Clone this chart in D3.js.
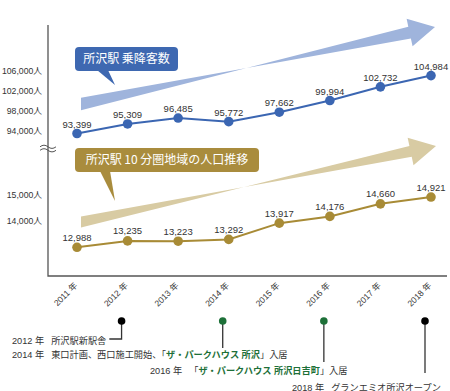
<!DOCTYPE html>
<html>
<head>
<meta charset="utf-8">
<script src="https://cdn.jsdelivr.net/npm/d3@7"></script>
<style>
  body { margin: 0; background: #fff; }
  svg { display: block; font-family: "Liberation Sans", Arial, "Noto Sans CJK JP", sans-serif; }
</style>
</head>
<body>
<div class="chart"></div>
<script>
// DATA ------------------------------------
const years = [2011, 2012, 2013, 2014, 2015, 2016, 2017, 2018];
const riders = [93399, 95309, 96485, 95772, 97662, 99994, 102732, 104984];
const population = [12988, 13235, 13223, 13292, 13917, 14176, 14660, 14921];
const riderTicks = [94000, 98000, 102000, 106000];
const popTicks = [14000, 15000];
const riderTitle = "所沢駅 乗降客数";
const popTitle = "所沢駅 10 分圏地域の人口推移";
const eventYears = [2012, 2014, 2016, 2018];
const eventTexts = [
  "所沢駅新駅舎",
  "東口計画、西口施工開始、「ザ・パークハウス 所沢」入居",
  "「ザ・パークハウス 所沢日吉町」入居",
  "グランエミオ所沢オープン"
];

// CHART INIT ------------------------------
const W = 450, H = 391;
const blue = "#3b66b2", blueLight = "#9fb4dc", blueBox = "#3e68b1";
const gold = "#a88b36", goldLight = "#d8cba3", goldBox = "#a98c3d";
const green = "#1d7038", ink = "#333";

const svg = d3.select(".chart").append("svg")
    .attr("width", W)
    .attr("height", H);

const x = d3.scalePoint().domain(years).range([77, 431]);
const yR = d3.scaleLinear().domain([94000, 106000]).range([130.5, 70.5]);
const yP = d3.scaleLinear().domain([14000, 15000]).range([221, 195]);

// big trend arrows
function arrow(x0, y0, x1, y1, bw, hw, hl) {
    const dx = x1 - x0, dy = y1 - y0, len = Math.hypot(dx, dy);
    const ux = dx / len, uy = dy / len, px = -uy, py = ux;
    const bx = x1 - ux * hl, by = y1 - uy * hl;
    const t = bw / ux;
    const p = [[x0, y0 - t], [bx + px * bw, by + py * bw], [bx + px * hw, by + py * hw], [x1, y1],
               [bx - px * hw, by - py * hw], [bx - px * bw, by - py * bw], [x0, y0 + t]];
    return "M" + p.join("L") + "Z";
}
svg.append("path").attr("d", arrow(81, 104, 435, 27, 6, 14, 26)).attr("fill", blueLight);
svg.append("path").attr("d", arrow(81, 222, 436, 146, 5.5, 14, 26)).attr("fill", goldLight);

// callouts
function callout(bx, by, bw, bh, t0, t1, tip, color, label) {
    const g = svg.append("g");
    g.append("path")
        .attr("d", `M${t0},${by + bh - 1}L${tip[0]},${tip[1]}L${t1},${by + bh - 1}Z`)
        .attr("fill", color);
    g.append("rect")
        .attr("x", bx).attr("y", by).attr("width", bw).attr("height", bh)
        .attr("rx", 4).attr("fill", color);
    g.append("text")
        .attr("x", bx + bw / 2).attr("y", by + bh / 2 + 4.3)
        .attr("text-anchor", "middle")
        .attr("fill", "#fff")
        .style("font-family", "'Noto Sans CJK JP', sans-serif")
        .style("font-size", "12px")
        .text(label);
}
callout(75, 47, 103, 24, 97, 108, [115, 85], blueBox, riderTitle);
callout(75, 148, 184, 24, 100, 110, [115, 201], goldBox, popTitle);

// axes
svg.append("path")
    .attr("d", "M48,25L48,276L447,276")
    .attr("fill", "none")
    .attr("stroke", "#555")
    .attr("stroke-width", 1.3);

// axis break
[146.8, 150.3].forEach(function (yy) {
    svg.append("path")
        .attr("d", `M40,${yy}q4,-3.2 8,0t8,0`)
        .attr("fill", "none")
        .attr("stroke", "#555")
        .attr("stroke-width", 1);
});

const fmt = d3.format(",");
function yAxis(scale, ticks) {
    const a = svg.append("g")
        .attr("transform", "translate(48,0)")
        .call(d3.axisLeft(scale).tickValues(ticks).tickSize(0).tickPadding(6)
            .tickFormat(d => fmt(d) + "人"));
    a.select(".domain").remove();
    a.selectAll("text")
        .attr("fill", ink)
        .style("font-family", "'Liberation Sans', Arial, 'Noto Sans CJK JP', sans-serif")
        .style("font-size", "8.7px");
}
yAxis(yR, riderTicks);
yAxis(yP, popTicks);

// year labels
svg.selectAll(".year")
    .data(years)
    .enter().append("text")
    .attr("class", "year")
    .attr("transform", d => `translate(${x(d) + 1},286) rotate(-45)`)
    .attr("text-anchor", "end")
    .attr("fill", ink)
    .style("font-size", "8.5px")
    .text(d => d + " 年");

// series
function series(vals, y, color, ly) {
    const pts = years.map((yr, i) => [x(yr), y(vals[i]), vals[i]]);
    svg.append("path")
        .attr("d", d3.line()(pts.map(p => [p[0], p[1]])))
        .attr("fill", "none")
        .attr("stroke", color)
        .attr("stroke-width", 2);
    svg.selectAll(null).data(pts).enter().append("circle")
        .attr("cx", d => d[0]).attr("cy", d => d[1]).attr("r", 4.8)
        .attr("fill", color);
    svg.selectAll(null).data(pts).enter().append("text")
        .attr("x", d => d[0]).attr("y", d => d[1] - ly)
        .attr("text-anchor", "middle")
        .attr("fill", ink)
        .style("font-size", "9.5px")
        .text(d => fmt(d[2]));
}
series(riders, yR, blue, 6);
series(population, yP, gold, 6.5);

// timeline of events
const rows = [
    { x: 12, y: 343.5, end: 339 },
    { x: 12, y: 357.5, end: 348 },
    { x: 150, y: 373.5, end: 362 },
    { x: 292, y: 390.5, end: 373 }
];
eventYears.forEach(function (yr, i) {
    const r = rows[i];
    const parts = eventTexts[i].split(/(「[^」]*」)/).filter(s => s.length);
    const hasMark = parts.some(s => s[0] === "「");
    const t = svg.append("text")
        .attr("x", r.x).attr("y", r.y)
        .attr("fill", ink)
        .style("font-size", "9.2px");
    t.append("tspan").text(yr + " 年");
    parts.forEach(function (s, j) {
        const dx = j === 0 ? 7 : 0;
        if (s[0] === "「") {
            t.append("tspan").attr("dx", dx).text("「");
            t.append("tspan").attr("fill", green).attr("font-weight", "bold")
                .text(s.slice(1, -1));
            t.append("tspan").text("」");
        } else {
            t.append("tspan").attr("dx", dx).text(s);
        }
    });
    const cx = x(yr) - 6, cy = 321;
    let d;
    if (i === 0) {
        const endX = r.x + t.node().getComputedTextLength() + 10;
        d = `M${cx},${cy}L${cx},${r.end}L${endX},${r.end}`;
    } else {
        d = `M${cx},${cy}L${cx},${r.end}`;
    }
    svg.append("path").attr("d", d).attr("fill", "none")
        .attr("stroke", ink).attr("stroke-width", 1.3);
    svg.append("circle").attr("cx", cx).attr("cy", cy).attr("r", 3.8)
        .attr("fill", hasMark ? green : "#000");
});
</script>
</body>
</html>
